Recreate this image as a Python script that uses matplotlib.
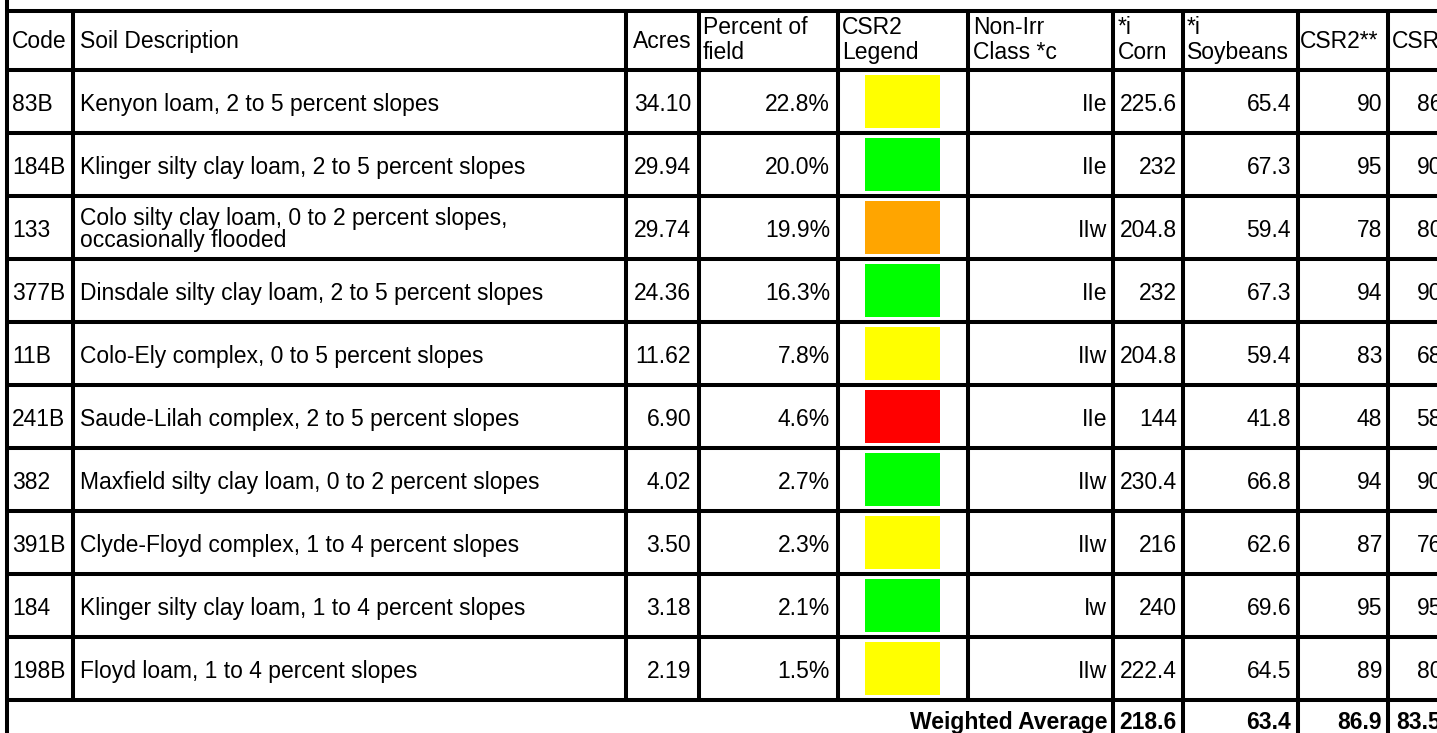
import matplotlib.pyplot as plt

plt.rcParams['font.family'] = ['Liberation Sans', 'DejaVu Sans']

codes = ["83B", "184B", "133", "377B", "11B", "241B", "382", "391B", "184", "198B"]
descriptions = [
    "Kenyon loam, 2 to 5 percent slopes",
    "Klinger silty clay loam, 2 to 5 percent slopes",
    "Colo silty clay loam, 0 to 2 percent slopes,\noccasionally flooded",
    "Dinsdale silty clay loam, 2 to 5 percent slopes",
    "Colo-Ely complex, 0 to 5 percent slopes",
    "Saude-Lilah complex, 2 to 5 percent slopes",
    "Maxfield silty clay loam, 0 to 2 percent slopes",
    "Clyde-Floyd complex, 1 to 4 percent slopes",
    "Klinger silty clay loam, 1 to 4 percent slopes",
    "Floyd loam, 1 to 4 percent slopes",
]
acres = [34.10, 29.94, 29.74, 24.36, 11.62, 6.90, 4.02, 3.50, 3.18, 2.19]
percent = [22.8, 20.0, 19.9, 16.3, 7.8, 4.6, 2.7, 2.3, 2.1, 1.5]
legend = ["yellow", "green", "orange", "green", "yellow", "red", "green", "yellow", "green", "yellow"]
non_irr = ["IIe", "IIe", "IIw", "IIe", "IIw", "IIe", "IIw", "IIw", "Iw", "IIw"]
corn = [225.6, 232, 204.8, 232, 204.8, 144, 230.4, 216, 240, 222.4]
soybeans = [65.4, 67.3, 59.4, 67.3, 59.4, 41.8, 66.8, 62.6, 69.6, 64.5]
csr2 = [90, 95, 78, 94, 83, 48, 94, 87, 95, 89]
csr = [86, 90, 80, 90, 68, 58, 90, 76, 95, 80]
weighted = ["218.6", "63.4", "86.9", "83.5"]

legend_colors = {"yellow": "#FFFF00", "green": "#00FF00", "orange": "#FFA500", "red": "#FF0000"}

W, H = 1437, 733
fig = plt.figure(figsize=(W / 100, H / 100), dpi=100)
ax = fig.add_axes([0, 0, 1, 1])
ax.set_xlim(0, W)
ax.set_ylim(H, 0)
ax.axis('off')

fs = 16.5
lw = 2.9
top = 11
head_bot = 70
row_h = 63
n = len(codes)
row_tops = [head_bot + i * row_h for i in range(n + 1)]
table_bot = row_tops[-1]

# grid
x_left = 7
inner_cols = [73, 626, 699, 838, 968]
full_cols = [1113, 1183, 1298, 1388]
ax.vlines(x_left, 0, H, color='black', lw=lw)
ax.vlines(inner_cols, top, table_bot, color='black', lw=lw)
ax.vlines(full_cols, top, H, color='black', lw=lw)
ax.hlines([top] + row_tops, x_left, W, color='black', lw=lw)

# header
def htext(x, y, s, **kw):
    ax.text(x, y, s, fontsize=fs, va='baseline', **kw)

single_base = 48
b1, b2 = 34, 59
htext(12, single_base, "Code")
htext(80, single_base, "Soil Description")
htext(633, single_base, "Acres")
htext(703, b1, "Percent of")
htext(703, b2, "field")
htext(842, b1, "CSR2")
htext(842, b2, "Legend")
htext(973, b1, "Non-Irr")
htext(973, b2, "Class *c")
htext(1118, b1, "*i")
htext(1118, b2, "Corn")
htext(1187, b1, "*i")
htext(1187, b2, "Soybeans")
htext(1300, single_base, "CSR2**")
htext(1392, single_base, "CSR")

# rows
for i in range(n):
    y0 = row_tops[i]
    base = y0 + 41
    htext(12, base, codes[i])
    lines = descriptions[i].split("\n")
    if len(lines) == 1:
        htext(80, base, lines[0])
    else:
        htext(80, y0 + 29, lines[0])
        htext(80, y0 + 51, lines[1])
    htext(691, base, "%.2f" % acres[i], ha='right')
    htext(830, base, "%.1f%%" % percent[i], ha='right')
    ax.add_patch(plt.Rectangle((865, y0 + 5), 75, row_h - 10,
                               facecolor=legend_colors[legend[i]], edgecolor='none'))
    htext(1107, base, non_irr[i], ha='right')
    htext(1177, base, "%g" % corn[i], ha='right')
    htext(1291, base, "%.1f" % soybeans[i], ha='right')
    htext(1382, base, str(csr2[i]), ha='right')
    htext(1442, base, str(csr[i]), ha='right', clip_on=False)

# weighted average row
wb = table_bot + 29
htext(1107, wb, "Weighted Average", ha='right', fontweight='bold')
for x, s in zip([1177, 1291, 1382, 1441], weighted):
    htext(x, wb, s, ha='right', fontweight='bold')

fig.savefig("out.png", dpi=100)
